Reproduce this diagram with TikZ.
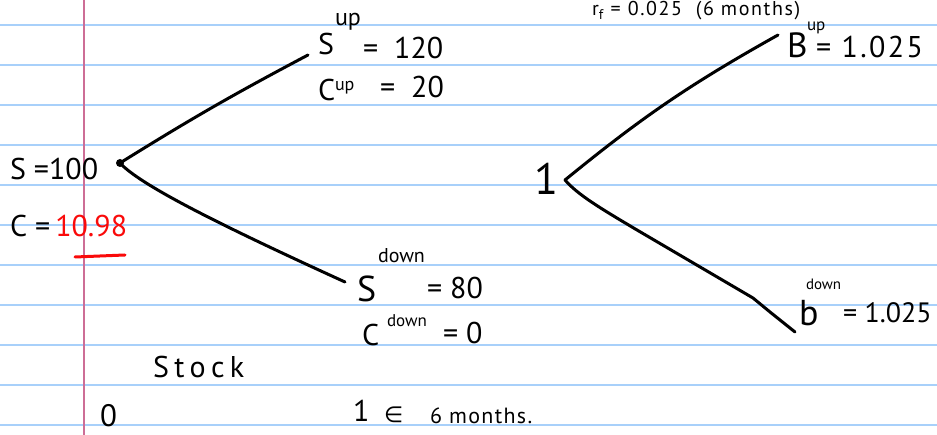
\documentclass[tikz,border=0pt]{standalone}
\usepackage{fontspec}
\setmainfont{PT Sans}
\newfontfamily\symfont{DejaVu Sans}
\definecolor{ruleblue}{RGB}{168,208,250}
\definecolor{marginpink}{RGB}{205,110,150}
\definecolor{redink}{RGB}{250,10,10}
\tikzset{
  hw/.style={font=\fontsize{30}{30}\selectfont, inner sep=0pt, outer sep=0pt, anchor=base west, text=black},
  supl/.style={hw, font=\fontsize{20}{20}\selectfont},
  ruleline/.style={draw=ruleblue, line width=1.6pt},
  marginline/.style={draw=marginpink, line width=1.3pt},
  branch/.style={draw=black, line width=3pt, line cap=round, line join=round},
  redline/.style={draw=redink, line width=3pt, line cap=round},
  vertex/.style={circle, fill=black, inner sep=0pt, minimum size=8pt}
}
\begin{document}
\begin{tikzpicture}[x=1pt,y=-1pt]
\useasboundingbox (0,0) rectangle (937,435);
\fill[white] (0,0) rectangle (937,435);
\foreach \k in {0,...,10} {\draw[ruleline] (0,{25+40*\k}) -- (937,{25+40*\k});}
\draw[marginline] (84,0) -- (84,435);

% heading at the top edge
\node[hw, font=\fontsize{20}{20}\selectfont\addfontfeature{LetterSpace=8}] (head) at (592,16) {r\textsubscript{f} = 0.025 \ (6 months)};

% ---- stock tree ----
\node[hw] (s0lab) at (10,180) {S =100};
\node[hw] (c0lab) at (10,237) {C =\,\textcolor{redink}{10.98}};
\coordinate (ula) at (75,257);
\coordinate (ulb) at (125,255);
\draw[redline] (ula) -- (ulb);

\node[vertex] (s0) at (120,163) {};
\coordinate (su) at (308,55);
\coordinate (sd) at (345,282);
\draw[branch] (s0.center) to[bend left=2] (su);
\draw[branch] (s0.center) .. controls (140,185) and (220,225) .. (sd);

\node[hw] (supS) at (318,55) {S};
\node[supl, font=\fontsize{24}{24}\selectfont] (supSs) at (335,26) {up};
\node[hw] (supSv) at (363,59) {=\ \ 120};

\node[hw] (supC) at (318,101) {C};
\node[supl, font=\fontsize{18}{18}\selectfont] (supCs) at (335,91) {up};
\node[hw] (supCv) at (380,98) {=\ \ 20};

\node[hw, font=\fontsize{36}{36}\selectfont] (sdnS) at (357,302) {S};
\node[supl] (sdnSs) at (378,263) {down};
\node[hw] (sdnSv) at (427,299) {=\ 80};

\node[hw] (sdnC) at (362,346) {C};
\node[supl, font=\fontsize{17}{17}\selectfont] (sdnCs) at (387,327) {down};
\node[hw] (sdnCv) at (443,344) {=\ 0};

\node[hw, font=\fontsize{30}{30}\selectfont\addfontfeature{LetterSpace=18}] (stock) at (153,378) {Stock};
\node[hw, font=\fontsize{31}{31}\selectfont] (t0) at (100,426) {0};
\node[hw] (t1) at (353,421) {1};
\node[hw, font=\fontsize{22}{22}\selectfont\symfont] (t1in) at (384,422) {∈};
\node[hw, font=\fontsize{22}{22}\selectfont\addfontfeature{LetterSpace=6}] (t1m) at (430,423) {6 months.};

% ---- bond tree ----
\node[hw, font=\fontsize{44}{44}\selectfont] (b0lab) at (534,195) {1};
\coordinate (b0) at (565,180);
\coordinate (bu) at (778,35);
\coordinate (bm) at (637,230);
\coordinate (bk) at (753,298);
\coordinate (bk2) at (770,312);
\coordinate (bd) at (795,332);
\draw[branch] (b0) to[bend left=5] (bu);
\draw[branch] (b0) .. controls (578,195) and (600,208) .. (bm) -- (bk) -- (bk2) -- (bd);

\node[hw, font=\fontsize{35}{35}\selectfont] (bupB) at (787,58) {B};
\node[supl, font=\fontsize{17}{17}\selectfont] (bupBs) at (807,31) {up};
\node[hw, font=\fontsize{30}{30}\selectfont\addfontfeature{LetterSpace=8}] (bupBv) at (816,58) {=\ 1.025};

\node[hw, font=\fontsize{36}{36}\selectfont] (bdnB) at (799,326) {b};
\node[supl, font=\fontsize{15}{15}\selectfont] (bdnBs) at (806,290) {down};
\node[hw, font=\fontsize{28}{28}\selectfont] (bdnBv) at (843,323) {=\ 1.025};
\end{tikzpicture}
\end{document}
